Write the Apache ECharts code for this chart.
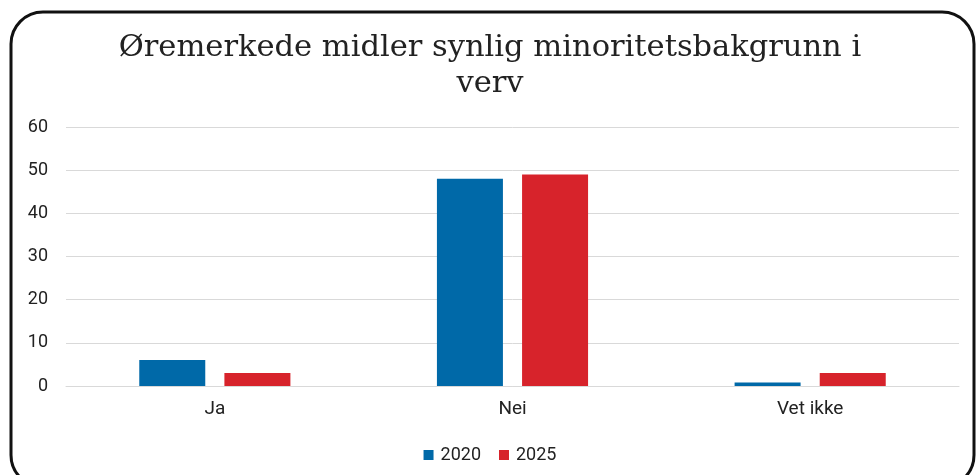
<!DOCTYPE html>
<html><head><meta charset="utf-8">
<script src="https://cdn.jsdelivr.net/npm/echarts@6/dist/echarts.min.js"></script>
<style>html,body{margin:0;padding:0;background:#fff}#c{width:980px;height:475px}</style>
</head><body><div id="c"></div>
<script>
const categories = ['Ja', 'Nei', 'Vet ikke'];
const series2020 = [6, 48, 0.8];
const series2025 = [3, 49, 3];
const seriesNames = ['2020', '2025'];
const yTicks = [0, 10, 20, 30, 40, 50, 60];

const chart = echarts.init(document.getElementById('c'), null, {renderer: 'canvas'});
chart.setOption({
  animation: false,
  backgroundColor: '#fff',
  title: {
    text: 'Øremerkede midler synlig minoritetsbakgrunn i\nverv',
    left: 'center', top: 25,
    textStyle: {fontFamily: 'DejaVu Serif', fontWeight: 'normal', fontSize: 30.5, color: '#222', lineHeight: 36}
  },
  legend: {
    data: seriesNames, bottom: 6, left: 'center',
    itemWidth: 10, itemHeight: 10, itemGap: 18, icon: 'rect',
    textStyle: {fontFamily: 'Roboto', fontSize: 18, color: '#222', padding: [0, 0, 0, 2]}
  },
  grid: {left: 66, right: 21, top: 127, bottom: 89, containLabel: false},
  xAxis: {
    type: 'category', data: categories,
    axisLine: {show: true, lineStyle: {color: '#d9d9d9', width: 1}},
    axisTick: {show: false},
    axisLabel: {fontFamily: 'Roboto', fontSize: 19, color: '#222', margin: 14}
  },
  yAxis: {
    type: 'value', min: yTicks[0], max: yTicks[yTicks.length - 1], interval: 10,
    axisLine: {show: false}, axisTick: {show: false},
    splitLine: {lineStyle: {color: '#d9d9d9', width: 1}},
    axisLabel: {fontFamily: 'Roboto', fontSize: 18, color: '#222', margin: 18}
  },
  series: [
    {name: seriesNames[0], type: 'bar', data: series2020, barWidth: 66, barGap: '29%',
     itemStyle: {color: '#0069a8'}},
    {name: seriesNames[1], type: 'bar', data: series2025, barWidth: 66,
     itemStyle: {color: '#d7232b'}}
  ],
  graphic: [{
    type: 'rect', silent: true, z: 100,
    shape: {x: 11, y: 12, width: 963, height: 475, r: 32},
    style: {fill: null, stroke: '#111', lineWidth: 3}
  }]
});
</script></body></html>
